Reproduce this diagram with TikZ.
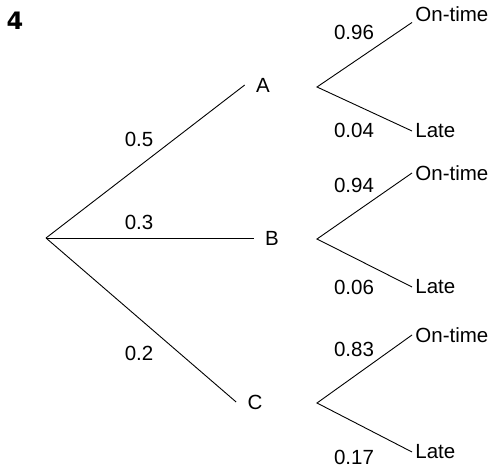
\documentclass[tikz,border=0pt]{standalone}
\usepackage{fontspec}
\setmainfont{Liberation Sans}
\newfontfamily\qnumfont{DejaVu Sans}
\usepackage{tikz}

\begin{document}
\begin{tikzpicture}[x=1pt, y=-1pt, line width=0.9pt]
    % Styles
    \tikzstyle{branch} = [inner xsep=11pt, inner ysep=0pt, font=\fontsize{20.5}{24}\selectfont]
    \tikzstyle{outcome} = [anchor=west, inner xsep=3pt, inner ysep=0pt, font=\fontsize{20.5}{24}\selectfont]
    \tikzstyle{prob} = [inner sep=0pt, font=\fontsize{20.5}{24}\selectfont]

    \useasboundingbox (0,0) rectangle (493,468);

    % Question number
    \node (qnum) at (15,21) [font=\qnumfont\bfseries\fontsize{24}{28}\selectfont] {4};

    % Nodes
    \coordinate (root) at (46,238);
    \node (A) at (263,85) [branch] {A};
    \node (B) at (272,238) [branch] {B};
    \node (C) at (255,402) [branch] {C};

    \coordinate (Aout) at (317,87);
    \coordinate (Bout) at (317,239);
    \coordinate (Cout) at (317,403);

    \node (ontimeA) at (412,14.5) [outcome] {On-time};
    \node (lateA) at (412,131) [outcome] {Late};
    \node (ontimeB) at (412,173) [outcome] {On-time};
    \node (lateB) at (412,287) [outcome] {Late};
    \node (ontimeC) at (412,335) [outcome] {On-time};
    \node (lateC) at (412,452) [outcome] {Late};

    % Probabilities
    \node (pA) at (139,139) [prob] {0.5};
    \node (pB) at (139,222) [prob] {0.3};
    \node (pC) at (139,353) [prob] {0.2};
    \node (pAon) at (354,32) [prob] {0.96};
    \node (pAlate) at (354,130) [prob] {0.04};
    \node (pBon) at (354,185) [prob] {0.94};
    \node (pBlate) at (354,287) [prob] {0.06};
    \node (pCon) at (354,349) [prob] {0.83};
    \node (pClate) at (354,457) [prob] {0.17};

    % Connections
    \draw (root) -- (A.west);
    \draw (root) -- (B.west);
    \draw (root) -- (C.west);

    \draw (ontimeA.south west) -- (Aout) -- (lateA.west);
    \draw (ontimeB.west) -- (Bout) -- (lateB.west);
    \draw (ontimeC.west) -- (Cout) -- (lateC.west);
\end{tikzpicture}
\end{document}
